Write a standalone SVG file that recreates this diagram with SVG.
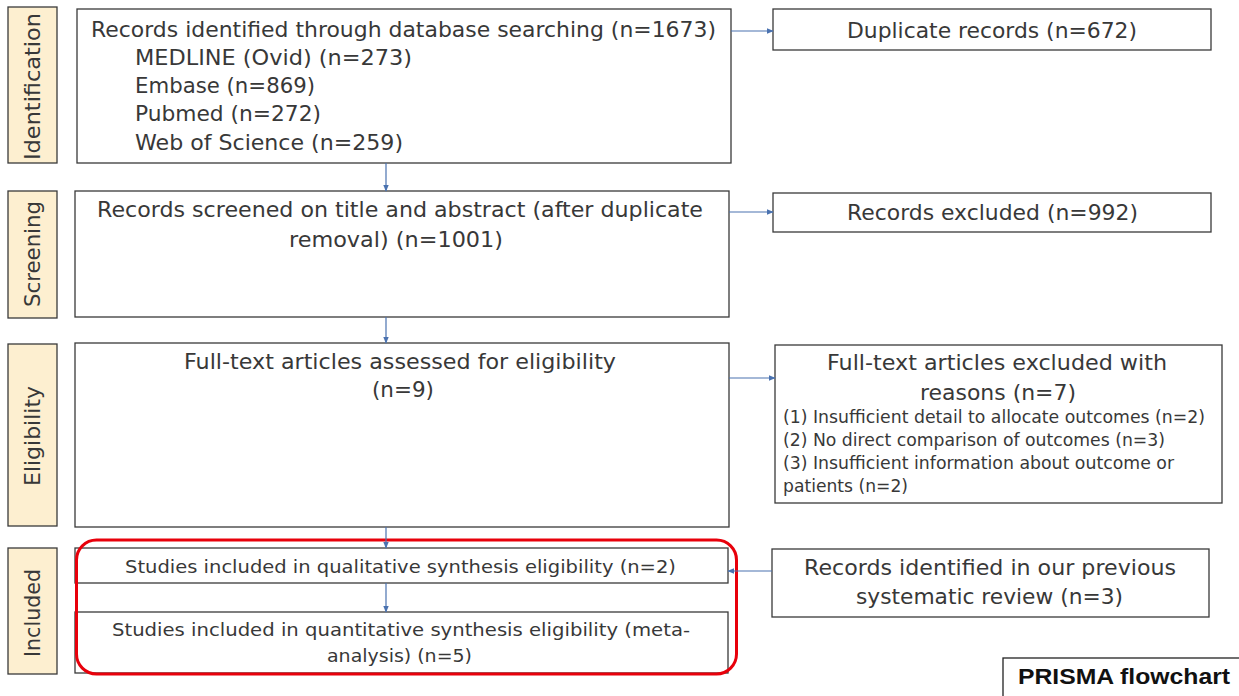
<svg xmlns="http://www.w3.org/2000/svg" width="1239" height="696" viewBox="0 0 1239 696">
<defs>
<style>
.box{fill:#fff;stroke:#3a3a3a;stroke-width:1.3}
.lab{fill:#fdefd0;stroke:#3a3a3a;stroke-width:1.3}
.t{font-family:"DejaVu Sans","Liberation Sans",sans-serif;font-size:22px;fill:#383838}
.s{font-family:"DejaVu Sans","Liberation Sans",sans-serif;font-size:17px;fill:#383838}
.m{font-family:"DejaVu Sans","Liberation Sans",sans-serif;font-size:18px;fill:#383838}
.conn{stroke:#4a72b0;stroke-width:1.2;fill:none;marker-end:url(#ah)}
</style>
<marker id="ah" viewBox="0 0 10 10" refX="9" refY="5" markerWidth="7" markerHeight="7" markerUnits="userSpaceOnUse" orient="auto"><path d="M0,1 L10,5 L0,9 Z" fill="#4a72b0"/></marker>
</defs>
<rect width="1239" height="696" fill="#fff"/>

<g id="lab-identification"><rect class="lab" x="8" y="7" width="49" height="156"/><text class="t" transform="translate(40,160) rotate(-90)" textLength="147" lengthAdjust="spacingAndGlyphs">Identification</text></g>
<g id="lab-screening"><rect class="lab" x="8" y="191" width="49" height="127"/><text class="t" transform="translate(40,307) rotate(-90)" textLength="106" lengthAdjust="spacingAndGlyphs">Screening</text></g>
<g id="lab-eligibility"><rect class="lab" x="8" y="344" width="49" height="182"/><text class="t" transform="translate(40,486) rotate(-90)" textLength="100" lengthAdjust="spacingAndGlyphs">Eligibility</text></g>
<g id="lab-included"><rect class="lab" x="8" y="548" width="49" height="126"/><text class="t" transform="translate(40,657) rotate(-90)" textLength="88" lengthAdjust="spacingAndGlyphs">Included</text></g>

<g id="n-identified"><rect class="box" x="77" y="9" width="654" height="154"/>
<text class="t" x="91" y="37" textLength="625" lengthAdjust="spacingAndGlyphs">Records identified through database searching (n=1673)</text>
<text class="t" x="135" y="65" textLength="277" lengthAdjust="spacingAndGlyphs">MEDLINE (Ovid) (n=273)</text>
<text class="t" x="135" y="93" textLength="180" lengthAdjust="spacingAndGlyphs">Embase (n=869)</text>
<text class="t" x="135" y="121" textLength="186" lengthAdjust="spacingAndGlyphs">Pubmed (n=272)</text>
<text class="t" x="135" y="150" textLength="268" lengthAdjust="spacingAndGlyphs">Web of Science (n=259)</text></g>

<g id="n-duplicate"><rect class="box" x="773" y="9" width="438" height="41"/><text class="t" x="847" y="38" textLength="290" lengthAdjust="spacingAndGlyphs">Duplicate records (n=672)</text></g>

<g id="n-screened"><rect class="box" x="75" y="191" width="654" height="126"/>
<text class="t" x="97" y="217" textLength="606" lengthAdjust="spacingAndGlyphs">Records screened on title and abstract (after duplicate</text>
<text class="t" x="289" y="247" textLength="214" lengthAdjust="spacingAndGlyphs">removal) (n=1001)</text></g>

<g id="n-excluded"><rect class="box" x="773" y="193" width="438" height="39"/><text class="t" x="847" y="220" textLength="291" lengthAdjust="spacingAndGlyphs">Records excluded (n=992)</text></g>

<g id="n-fulltext"><rect class="box" x="75" y="343" width="654" height="184"/>
<text class="t" x="184" y="369" textLength="432" lengthAdjust="spacingAndGlyphs">Full-text articles assessed for eligibility</text>
<text class="t" x="372" y="397" textLength="62" lengthAdjust="spacingAndGlyphs">(n=9)</text></g>

<g id="n-ft-excluded"><rect class="box" x="775" y="345" width="447" height="158"/>
<text class="t" x="827" y="370" textLength="340" lengthAdjust="spacingAndGlyphs">Full-text articles excluded with</text>
<text class="t" x="920" y="400" textLength="156" lengthAdjust="spacingAndGlyphs">reasons (n=7)</text>
<text class="s" x="783" y="423" textLength="422" lengthAdjust="spacingAndGlyphs">(1) Insufficient detail to allocate outcomes (n=2)</text>
<text class="s" x="783" y="446" textLength="382" lengthAdjust="spacingAndGlyphs">(2) No direct comparison of outcomes (n=3)</text>
<text class="s" x="783" y="469" textLength="391" lengthAdjust="spacingAndGlyphs">(3) Insufficient information about outcome or</text>
<text class="s" x="783" y="492" textLength="125" lengthAdjust="spacingAndGlyphs">patients (n=2)</text></g>

<g id="n-qualitative"><rect class="box" x="75" y="548" width="653" height="35"/>
<text class="m" x="125" y="573" textLength="551" lengthAdjust="spacingAndGlyphs">Studies included in qualitative synthesis eligibility (n=2)</text></g>

<g id="n-quantitative"><rect class="box" x="75" y="612" width="653" height="61"/>
<text class="m" x="112" y="636" textLength="578" lengthAdjust="spacingAndGlyphs">Studies included in quantitative synthesis eligibility (meta-</text>
<text class="m" x="327" y="662" textLength="145" lengthAdjust="spacingAndGlyphs">analysis) (n=5)</text></g>

<g id="n-previous"><rect class="box" x="772" y="549" width="437" height="68"/>
<text class="t" x="804" y="575" textLength="372" lengthAdjust="spacingAndGlyphs">Records identified in our previous</text>
<text class="t" x="856" y="604" textLength="267" lengthAdjust="spacingAndGlyphs">systematic review (n=3)</text></g>

<g id="highlight"><rect x="76.5" y="540" width="660" height="134" rx="20" fill="none" stroke="#e8000b" stroke-width="3"/></g>

<g id="n-title"><rect x="1003" y="658" width="240" height="42" fill="#fff" stroke="#222" stroke-width="1.3"/>
<text x="1018" y="684" font-family="Liberation Sans,DejaVu Sans,sans-serif" font-size="22" font-weight="bold" fill="#111" textLength="212" lengthAdjust="spacingAndGlyphs">PRISMA flowchart</text></g>

<g id="connectors">
<line class="conn" x1="731" y1="31" x2="773" y2="31"/>
<line class="conn" x1="729" y1="212" x2="773" y2="212"/>
<line class="conn" x1="729" y1="378" x2="775" y2="378"/>
<line class="conn" x1="386" y1="163" x2="386" y2="191"/>
<line class="conn" x1="386" y1="317" x2="386" y2="343"/>
<line class="conn" x1="386" y1="527" x2="386" y2="548"/>
<line class="conn" x1="386" y1="583" x2="386" y2="612"/>
<line class="conn" x1="772" y1="571" x2="728" y2="571"/>
</g>
</svg>
